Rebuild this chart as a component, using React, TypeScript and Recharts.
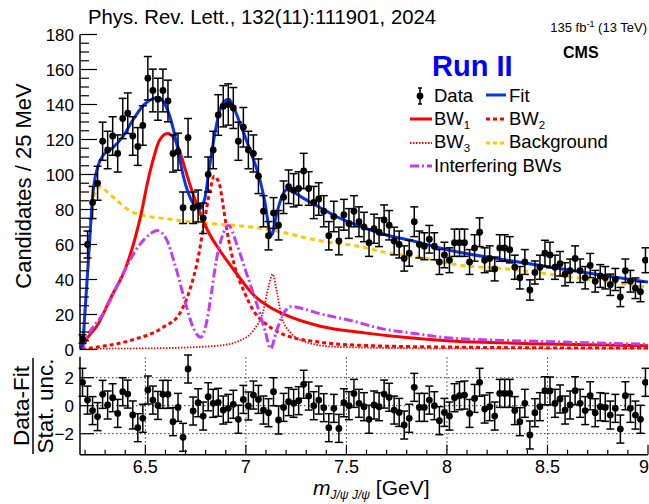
import React from 'react';
import { ComposedChart, Line, Scatter, ErrorBar, XAxis, YAxis, ReferenceLine } from 'recharts';

const FONT = '"Liberation Sans", Arial, Helvetica, sans-serif';

// ---- data ----
const binCenters = [
  6.1875, 6.2125, 6.2375, 6.2625, 6.2875, 6.3125, 6.3375, 6.3625, 6.3875, 6.4125,
  6.4375, 6.4625, 6.4875, 6.5125, 6.5375, 6.5625, 6.5875, 6.6125, 6.6375, 6.6625,
  6.6875, 6.7125, 6.7375, 6.7625, 6.7875, 6.8125, 6.8375, 6.8625, 6.8875, 6.9125,
  6.9375, 6.9625, 6.9875, 7.0125, 7.0375, 7.0625, 7.0875, 7.1125, 7.1375, 7.1625,
  7.1875, 7.2125, 7.2375, 7.2625, 7.2875, 7.3125, 7.3375, 7.3625, 7.3875, 7.4125,
  7.4375, 7.4625, 7.4875, 7.5125, 7.5375, 7.5625, 7.5875, 7.6125, 7.6375, 7.6625,
  7.6875, 7.7125, 7.7375, 7.7625, 7.7875, 7.8125, 7.8375, 7.8625, 7.8875, 7.9125,
  7.9375, 7.9625, 7.9875, 8.0125, 8.0375, 8.0625, 8.0875, 8.1125, 8.1375, 8.1625,
  8.1875, 8.2125, 8.2375, 8.2625, 8.2875, 8.3125, 8.3375, 8.3625, 8.3875, 8.4125,
  8.4375, 8.4625, 8.4875, 8.5125, 8.5375, 8.5625, 8.5875, 8.6125, 8.6375, 8.6625,
  8.6875, 8.7125, 8.7375, 8.7625, 8.7875, 8.8125, 8.8375, 8.8625, 8.8875, 8.9125,
  8.9375, 8.9625, 8.9875,
];

const counts = [
  6, 60, 84, 95, 119, 114, 122, 112, 132, 135,
  122, 116, 128, 155, 148, 143, 148, 142, 112, 113,
  81, 121, 81, 82, 75, 100, 114, 134, 139, 140,
  138, 119, 127, 114, 112, 99, 79, 65, 78, 71,
  87, 93, 91, 92, 102, 92, 84, 86, 79, 65,
  76, 62, 77, 72, 79, 73, 70, 61, 69, 67,
  74, 71, 62, 60, 52, 55, 73, 60, 59, 63,
  59, 50, 54, 51, 61, 61, 61, 50, 58, 67,
  51, 52, 46, 58, 58, 57, 47, 41, 50, 34,
  44, 47, 55, 54, 47, 49, 43, 45, 52, 45,
  41, 48, 39, 42, 41, 37, 40, 30, 45, 39,
  35, 33, 51,
];

const countErr = [
  2.4, 7.7, 9.2, 9.7, 10.9, 10.7, 11.0, 10.6, 11.5, 11.6,
  11.0, 10.8, 11.3, 12.4, 12.2, 12.0, 12.2, 11.9, 10.6, 10.6,
  9.0, 11.0, 9.0, 9.1, 8.7, 10.0, 10.7, 11.6, 11.8, 11.8,
  11.7, 10.9, 11.3, 10.7, 10.6, 9.9, 8.9, 8.1, 8.8, 8.4,
  9.3, 9.6, 9.5, 9.6, 10.1, 9.6, 9.2, 9.3, 8.9, 8.1,
  8.7, 7.9, 8.8, 8.5, 8.9, 8.5, 8.4, 7.8, 8.3, 8.2,
  8.6, 8.4, 7.9, 7.7, 7.2, 7.4, 8.5, 7.7, 7.7, 7.9,
  7.7, 7.1, 7.3, 7.1, 7.8, 7.8, 7.8, 7.1, 7.6, 8.2,
  7.1, 7.2, 6.8, 7.6, 7.6, 7.5, 6.9, 6.4, 7.1, 5.8,
  6.6, 6.9, 7.4, 7.3, 6.9, 7.0, 6.6, 6.7, 7.2, 6.7,
  6.4, 6.9, 6.2, 6.5, 6.4, 6.1, 6.3, 5.5, 6.7, 6.2,
  5.9, 5.7, 7.1,
];

const residuals = [
  1.67, 0.4, -0.35, -0.78, 0.81, 0.05, 0.57, -0.55, 1.0, 0.83,
  -0.66, -1.57, -0.9, 1.12, 0.4, 0.02, 0.81, 0.81, -1.14, -0.12,
  -2.26, 2.62, -0.38, 0.21, -0.74, 0.64, 0.17, 0.24, -0.31, -0.19,
  0.1, -0.97, 0.45, -0.02, 0.76, 0.45, -0.31, -0.5, 1.0, -1.02,
  -0.12, 0.29, 0.17, 0.36, 1.53, 0.69, 0, 0.4, -0.14, -1.57,
  -0.19, -1.62, 0.21, 0, 0.88, 0.17, -0.07, -0.97, 0.05, -0.07,
  0.83, 0.6, -0.31, -0.48, -1.38, -0.9, 1.31, -0.12, -0.12, 0.4,
  0, -1.07, -0.48, -0.74, 0.57, 0.71, 0.76, -0.55, 0.52, 1.67,
  -0.24, -0.07, -0.74, 0.88, 0.88, 0.88, -0.35, -1.14, 0.17, -2.09,
  -0.5, -0.07, 1.07, 1.05, 0.17, 0.48, -0.31, 0.05, 1.07, 0.17,
  -0.35, 0.71, -0.5, -0.07, -0.12, -0.67, -0.19, -1.67, 0.71, -0.19,
  -0.67, -0.97, 1.67,
];

const RESID_UNC = 1; // residuals are in units of the statistical uncertainty

// fitted curves, [mass GeV, candidates]
const fitCurve: [number, number][] = [
  [6.183, 0], [6.19, 5], [6.2, 22], [6.215, 48], [6.24, 90], [6.265, 105], [6.29, 111], [6.34, 115.5],
  [6.39, 122], [6.44, 131.5], [6.49, 139.5], [6.54, 143.5], [6.565, 144], [6.59, 141.5], [6.615, 135.5],
  [6.64, 125.5], [6.665, 112.5], [6.69, 98.5], [6.715, 89], [6.74, 83], [6.77, 80.5], [6.795, 86],
  [6.82, 105], [6.845, 123], [6.87, 136.5], [6.895, 142], [6.915, 143], [6.935, 139.5], [6.97, 129.5],
  [7.02, 114], [7.07, 97], [7.095, 84], [7.12, 67], [7.128, 65.5], [7.153, 77.5], [7.178, 87],
  [7.203, 91.3], [7.228, 90.5], [7.285, 86.5], [7.37, 81], [7.45, 76], [7.52, 72.5], [7.68, 66],
  [7.85, 61.5], [8.0, 57], [8.3, 51], [8.63, 45], [9.0, 38.5],
];
const bkgCurve: [number, number][] = [
  [6.183, 0], [6.19, 5], [6.2, 22], [6.215, 47], [6.24, 85], [6.26, 92], [6.28, 93], [6.31, 90],
  [6.36, 85], [6.42, 79.5], [6.5, 76.3], [6.6, 74.8], [6.67, 73.7], [6.84, 71.8], [7.0, 70.3],
  [7.14, 68], [7.35, 62.5], [7.58, 58.5], [7.68, 55.8], [7.91, 51.8], [8.02, 49], [8.3, 46],
  [8.65, 41], [9.0, 35.6],
];
const bw1Curve: [number, number][] = [
  [6.185, 0], [6.195, 3], [6.265, 14.5], [6.33, 30], [6.4, 46], [6.45, 64], [6.48, 78], [6.51, 95],
  [6.54, 109], [6.57, 119.5], [6.61, 123.5], [6.645, 120.5], [6.68, 110], [6.71, 98.5], [6.76, 81.5],
  [6.81, 68], [6.88, 55], [6.955, 43.2], [7.04, 31], [7.12, 24.2], [7.2, 19.6], [7.37, 13.3],
  [7.59, 9.5], [7.8, 6.8], [8.0, 5], [8.5, 3.2], [9.0, 2.2],
];
const bw2Curve: [number, number][] = [
  [6.185, 0], [6.21, 0.5], [6.42, 5], [6.59, 12.8], [6.67, 20.4], [6.72, 33.7], [6.763, 52.7],
  [6.797, 75.6], [6.822, 91], [6.843, 99], [6.868, 94.7], [6.888, 81.3], [6.909, 66], [6.941, 49],
  [6.996, 31.8], [7.037, 22.3], [7.085, 16], [7.12, 12.8], [7.2, 8], [7.37, 4.2], [7.59, 2.3],
  [8.0, 1.4], [9.0, 0.7],
];
const bw3Curve: [number, number][] = [
  [6.185, 0], [6.27, 0.3], [6.6, 0.8], [6.87, 2.3], [6.97, 5.1], [7.037, 10.9], [7.087, 22.3],
  [7.112, 35.6], [7.133, 43], [7.156, 31.8], [7.178, 18.5], [7.22, 9.9], [7.3, 4.2], [7.45, 1.5],
  [8.0, 0.5], [9.0, 0.2],
];
const interfCurve: [number, number][] = [
  [6.185, 0], [6.198, 4], [6.3, 22.3], [6.38, 41.3], [6.463, 58.5], [6.53, 66.5], [6.558, 68],
  [6.604, 63.2], [6.646, 49], [6.696, 28], [6.737, 12.8], [6.775, 7], [6.803, 14.7], [6.828, 31.8],
  [6.853, 51], [6.881, 64.2], [6.913, 71], [6.954, 60.4], [7.004, 43.2], [7.054, 26.1], [7.095, 10.9],
  [7.123, 0.5], [7.153, 10.9], [7.186, 20.4], [7.228, 24.6], [7.286, 23.2], [7.37, 20.4], [7.52, 16.6],
  [7.68, 11.8], [7.85, 9], [8.0, 6.7], [8.5, 4.5], [9.0, 3],
];

// axis ticks
const xTicks = [6.2, 6.3, 6.4, 6.5, 6.6, 6.7, 6.8, 6.9, 7, 7.1, 7.2, 7.3, 7.4, 7.5, 7.6, 7.7, 7.8, 7.9, 8,
  8.1, 8.2, 8.3, 8.4, 8.5, 8.6, 8.7, 8.8, 8.9, 9];
const xGrid = [6.5, 7, 7.5, 8, 8.5];
const yTicks = [0, 5, 10, 15, 20, 25, 30, 35, 40, 45, 50, 55, 60, 65, 70, 75, 80, 85, 90, 95, 100, 105, 110,
  115, 120, 125, 130, 135, 140, 145, 150, 155, 160, 165, 170, 175, 180];
const residTicks = [-2, 0, 2];
const residTickLabels: Record<string, string> = { '-2': '\u22122', '0': '0', '2': '2' };

const X_DOMAIN: [number, number] = [6.175, 9.0];

// ---- helpers ----
const toPts = (arr: [number, number][]) => arr.map(([x, y]) => ({ x, y }));
const mainData = binCenters.map((x, i) => ({ x, y: counts[i], err: countErr[i] }));
const residData = binCenters.map((x, i) => ({ x, y: residuals[i], err: RESID_UNC }));

const isMajorX = (v: number) => Math.abs(v * 2 - Math.round(v * 2)) < 1e-6;
const fmtX = (v: number) => (Number.isInteger(v) ? String(v) : v.toFixed(1));

const XTick = (p: any) => {
  const { x, y, payload, side, majorLen, minorLen, showLabel } = p;
  const v = payload.value;
  const maj = isMajorX(v);
  const len = maj ? majorLen : minorLen;
  const dir = side === 'bottom' ? -1 : 1;
  const atEdge = v >= X_DOMAIN[1] - 1e-9;
  return (
    <g>
      <line x1={x} y1={y} x2={x} y2={y + dir * len} stroke="#000" strokeWidth={1.2} />
      {showLabel && maj ? (
        <text x={atEdge ? x + 1 : x} y={y + 18} textAnchor={atEdge ? 'end' : 'middle'} fontSize={18}
          fill="#000" fontFamily={FONT}>
          {fmtX(v)}
        </text>
      ) : null}
    </g>
  );
};

const YTick = (p: any) => {
  const { x, y, payload, side, isMajor, majorLen, minorLen, labelFn } = p;
  const v = payload.value;
  const maj = isMajor(v);
  const len = maj ? majorLen : minorLen;
  const dir = side === 'left' ? 1 : -1;
  const lab = labelFn && maj ? labelFn(v) : null;
  return (
    <g>
      <line x1={x} y1={y} x2={x + dir * len} y2={y} stroke="#000" strokeWidth={1.2} />
      {lab != null ? (
        <text x={x - 6} y={y} dy="0.36em" textAnchor="end" fontSize={17} fill="#000" fontFamily={FONT}>
          {lab}
        </text>
      ) : null}
    </g>
  );
};

const Dot = (p: any) => <circle cx={p.cx} cy={p.cy} r={3.4} fill="#000" />;

const AXIS_LINE = { stroke: '#000', strokeWidth: 1.5 };

const C_FIT = '#0a33ee';
const C_RED = '#ff0000';
const C_BKG = '#ffc800';
const C_INT = '#c23cf5';

export default function App() {
  return (
    <div style={{ position: 'absolute', left: 0, top: 0, width: 649, height: 504, background: '#fff', overflow: 'hidden' }}>
      {/* main panel */}
      <div style={{ position: 'absolute', left: 0, top: 0 }}>
        <ComposedChart width={649} height={362} margin={{ top: 34.5, right: 1, bottom: 12.5, left: 0 }}>
          <XAxis
            xAxisId={0}
            dataKey="x"
            type="number"
            domain={X_DOMAIN}
            allowDataOverflow
            ticks={xTicks}
            interval={0}
            height={0}
            tickSize={0}
            tickMargin={0}
            tickLine={false}
            axisLine={AXIS_LINE}
            tick={(p: any) => <XTick {...p} side="bottom" majorLen={12} minorLen={6} showLabel={false} />}
          />
          <XAxis
            xAxisId="top"
            orientation="top"
            dataKey="x"
            type="number"
            domain={X_DOMAIN}
            allowDataOverflow
            ticks={xTicks}
            interval={0}
            height={0}
            tickSize={0}
            tickMargin={0}
            tickLine={false}
            axisLine={AXIS_LINE}
            tick={(p: any) => <XTick {...p} side="top" majorLen={12} minorLen={6} showLabel={false} />}
          />
          <YAxis
            yAxisId={0}
            type="number"
            domain={[0, 180]}
            allowDataOverflow
            ticks={yTicks}
            interval={0}
            width={80}
            tickSize={0}
            tickMargin={0}
            tickLine={false}
            axisLine={AXIS_LINE}
            tick={(p: any) => (
              <YTick {...p} side="left" isMajor={(v: number) => v % 20 === 0} majorLen={17} minorLen={9}
                labelFn={(v: number) => String(v)} />
            )}
          />
          <YAxis
            yAxisId="right"
            orientation="right"
            type="number"
            domain={[0, 180]}
            allowDataOverflow
            ticks={yTicks}
            interval={0}
            width={0}
            tickSize={0}
            tickMargin={0}
            tickLine={false}
            axisLine={AXIS_LINE}
            tick={(p: any) => (
              <YTick {...p} side="right" isMajor={(v: number) => v % 20 === 0} majorLen={17} minorLen={9} />
            )}
          />
          <Line xAxisId="top" yAxisId="right" data={toPts(fitCurve)} dataKey="y" stroke="none" dot={false}
            activeDot={false} isAnimationActive={false} legendType="none" />
          <Line data={toPts(bkgCurve)} dataKey="y" type="monotone" stroke={C_BKG} strokeWidth={3}
            strokeDasharray="5 4" dot={false} activeDot={false} isAnimationActive={false} />
          <Line data={toPts(bw1Curve)} dataKey="y" type="monotone" stroke={C_RED} strokeWidth={3}
            dot={false} activeDot={false} isAnimationActive={false} />
          <Line data={toPts(bw2Curve)} dataKey="y" type="monotone" stroke={C_RED} strokeWidth={3}
            strokeDasharray="4 3" dot={false} activeDot={false} isAnimationActive={false} />
          <Line data={toPts(bw3Curve)} dataKey="y" type="monotone" stroke={C_RED} strokeWidth={1.8}
            strokeDasharray="1.5 1.5" dot={false} activeDot={false} isAnimationActive={false} />
          <Line data={toPts(interfCurve)} dataKey="y" type="monotone" stroke={C_INT} strokeWidth={3}
            strokeDasharray="9 3 2 3" dot={false} activeDot={false} isAnimationActive={false} />
          <Line data={toPts(fitCurve)} dataKey="y" type="monotone" stroke={C_FIT} strokeWidth={3}
            dot={false} activeDot={false} isAnimationActive={false} />
          <Scatter data={mainData} dataKey="y" shape={Dot} isAnimationActive={false}>
            <ErrorBar dataKey="err" direction="y" width={4} strokeWidth={1.5} stroke="#000" />
          </Scatter>
        </ComposedChart>
      </div>

      {/* residual panel */}
      <div style={{ position: 'absolute', left: 0, top: 350 }}>
        <ComposedChart width={649} height={140} margin={{ top: 6.7, right: 1, bottom: 0.3, left: 0 }}>
          <XAxis
            xAxisId={0}
            dataKey="x"
            type="number"
            domain={X_DOMAIN}
            allowDataOverflow
            ticks={xTicks}
            interval={0}
            height={35}
            tickSize={0}
            tickMargin={0}
            tickLine={false}
            axisLine={AXIS_LINE}
            tick={(p: any) => <XTick {...p} side="bottom" majorLen={10} minorLen={5} showLabel />}
          />
          <XAxis
            xAxisId="top"
            orientation="top"
            dataKey="x"
            type="number"
            domain={X_DOMAIN}
            allowDataOverflow
            ticks={xTicks}
            interval={0}
            height={0}
            tickSize={0}
            tickMargin={0}
            tickLine={false}
            axisLine={AXIS_LINE}
            tick={(p: any) => <XTick {...p} side="top" majorLen={10} minorLen={5} showLabel={false} />}
          />
          <YAxis
            yAxisId={0}
            type="number"
            domain={[-3.5, 3.5]}
            allowDataOverflow
            ticks={residTicks}
            interval={0}
            width={80}
            tickSize={0}
            tickMargin={0}
            tickLine={false}
            axisLine={AXIS_LINE}
            tick={(p: any) => (
              <YTick {...p} side="left" isMajor={() => true} majorLen={14} minorLen={7}
                labelFn={(v: number) => residTickLabels[String(v)]} />
            )}
          />
          <YAxis
            yAxisId="right"
            orientation="right"
            type="number"
            domain={[-3.5, 3.5]}
            allowDataOverflow
            ticks={residTicks}
            interval={0}
            width={0}
            tickSize={0}
            tickMargin={0}
            tickLine={false}
            axisLine={AXIS_LINE}
            tick={(p: any) => <YTick {...p} side="right" isMajor={() => true} majorLen={12} minorLen={6} />}
          />
          <Line xAxisId="top" yAxisId="right" data={residData} dataKey="y" stroke="none" dot={false}
            activeDot={false} isAnimationActive={false} legendType="none" />
          {residTicks.map((v) => (
            <ReferenceLine key={'h' + v} y={v} stroke="#333" strokeWidth={1} strokeDasharray="1.5 2.5" />
          ))}
          {xGrid.map((v) => (
            <ReferenceLine key={'v' + v} x={v} stroke="#333" strokeWidth={1} strokeDasharray="1.5 2.5" />
          ))}
          <Scatter data={residData} dataKey="y" shape={Dot} isAnimationActive={false}>
            <ErrorBar dataKey="err" direction="y" width={4} strokeWidth={1.5} stroke="#000" />
          </Scatter>
        </ComposedChart>
      </div>

      {/* annotations & legend */}
      <svg width={649} height={504} style={{ position: 'absolute', left: 0, top: 0, pointerEvents: 'none' }}
        fontFamily={FONT}>
        <text x={88} y={24} fontSize={20.3} fill="#000">Phys. Rev. Lett., 132(11):111901, 2024</text>
        <text x={647} y={32} fontSize={13} fill="#000" textAnchor="end">
          135 fb<tspan fontSize={9} dy={-5}>-1</tspan><tspan dy={5}> (13 TeV)</tspan>
        </text>
        <text x={563} y={58} fontSize={16} fontWeight="bold" fill="#000">CMS</text>
        <text x={432} y={76} fontSize={29} fontWeight="bold" fill="#0000ff">Run II</text>

        {/* legend */}
        <g fontSize={18.5} fill="#000">
          <line x1={420} y1={88} x2={420} y2={104} stroke="#000" strokeWidth={1.5} />
          <line x1={418} y1={88} x2={422} y2={88} stroke="#000" strokeWidth={1.5} />
          <line x1={418} y1={104} x2={422} y2={104} stroke="#000" strokeWidth={1.5} />
          <circle cx={420} cy={96} r={3.4} fill="#000" />
          <text x={434} y={102}>Data</text>

          <line x1={486} y1={95} x2={506} y2={95} stroke={C_FIT} strokeWidth={3} />
          <text x={509} y={102}>Fit</text>

          <line x1={410} y1={119} x2={432} y2={119} stroke={C_RED} strokeWidth={3} />
          <text x={434} y={125}>BW<tspan fontSize={11.5} dy={4}>1</tspan></text>

          <line x1={486} y1={119} x2={506} y2={119} stroke={C_RED} strokeWidth={3} strokeDasharray="4 3" />
          <text x={509} y={125}>BW<tspan fontSize={11.5} dy={4}>2</tspan></text>

          <line x1={410} y1={143} x2={432} y2={143} stroke={C_RED} strokeWidth={1.8} strokeDasharray="1.5 1.5" />
          <text x={434} y={148}>BW<tspan fontSize={11.5} dy={4}>3</tspan></text>

          <line x1={486} y1={143} x2={506} y2={143} stroke={C_BKG} strokeWidth={3} strokeDasharray="4 3" />
          <text x={509} y={148}>Background</text>

          <line x1={410} y1={166} x2={432} y2={166} stroke={C_INT} strokeWidth={3} strokeDasharray="9 3 2 3" />
          <text x={434} y={172}>Interfering BWs</text>
        </g>

        {/* axis titles */}
        <text x={23} y={186} fontSize={22} fill="#000" textAnchor="middle" dy="0.36em"
          transform="rotate(-90 23 186)">Candidates / 25 MeV</text>

        <text x={21} y={406} fontSize={22.5} fill="#000" textAnchor="middle" dy="0.36em"
          transform="rotate(-90 21 406)">Data-Fit</text>
        <line x1={33} y1={358} x2={33} y2={454} stroke="#000" strokeWidth={1.5} />
        <text x={45} y={406} fontSize={22.5} fill="#000" textAnchor="middle" dy="0.36em"
          transform="rotate(-90 45 406)">Stat. unc.</text>

        <text x={313} y={495} fontSize={21} fill="#000">
          <tspan fontStyle="italic">m</tspan>
          <tspan fontSize={12} dy={4} fontStyle="italic">J/ψ J/ψ</tspan>
          <tspan dy={-4}> [GeV]</tspan>
        </text>
      </svg>
    </div>
  );
}
